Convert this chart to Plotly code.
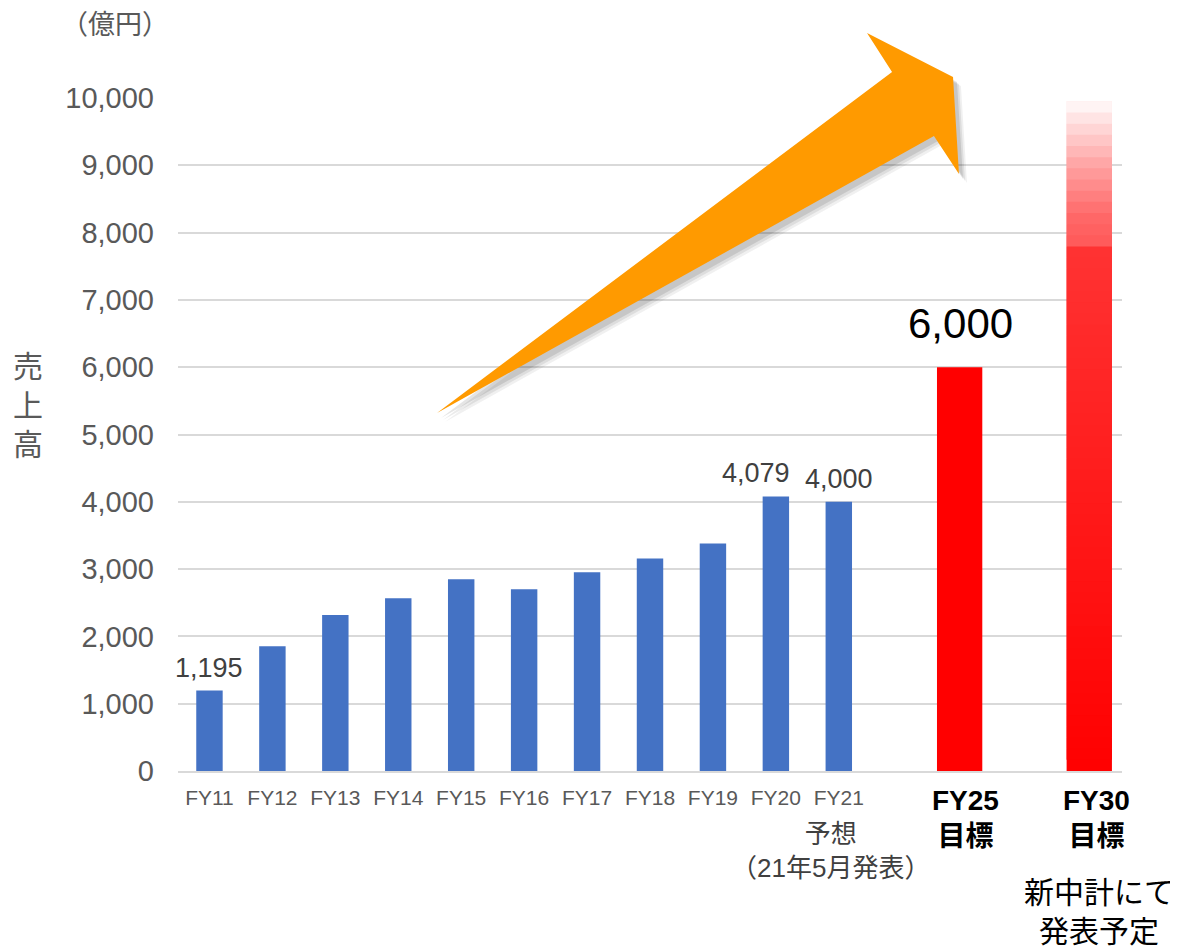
import plotly.graph_objects as go
from plotly.colors import sample_colorscale

# ── Data ──────────────────────────────────────────────────────────────────────
years = ["FY11", "FY12", "FY13", "FY14", "FY15", "FY16",
         "FY17", "FY18", "FY19", "FY20", "FY21"]
sales = [1195, 1853, 2319, 2567, 2850, 2701, 2954, 3158, 3381, 4079, 4000]

target_years = ["FY25", "FY30"]
targets = [6000, 9950]

spacers = [" ", "  "]
categories = years + [spacers[0], target_years[0], spacers[1], target_years[1]]

labelled_years = ["FY11", "FY20", "FY21"]
y_ticks = [0, 1000, 2000, 3000, 4000, 5000, 6000, 7000, 8000, 9000, 10000]

# ── Style ─────────────────────────────────────────────────────────────────────
W, H = 1178, 950
OFF = 8                                      # page body margin
PL, PR, PT, PB = 178, 1122, 98, 771          # plot area on screen
FONT = "Liberation Sans, Arial, Noto Sans CJK JP, sans-serif"
GREY = "#595959"
BLUE = "#4472C4"
RED = "#FF0000"
ORANGE = "#FF9A00"
RED_W = 0.72

# fade of the FY30 bar, 0 = bottom, 1 = top
FY30_FADE = [[0.0, "rgb(255,0,0)"], [0.775, "rgb(255,50,50)"],
             [0.785, "rgb(255,88,88)"], [0.83, "rgb(255,105,105)"],
             [0.9, "rgb(255,160,160)"], [0.95, "rgb(255,205,205)"],
             [1.0, "rgb(255,252,252)"]]
N_SEG = 60


def paper(px, py):
    return (px - PL) / (PR - PL), (PB - py) / (PB - PT)


def note(text, px, py, size, color, **kw):
    x, y = paper(px, py)
    fig.add_annotation(xref="paper", yref="paper", x=x, y=y, text=text,
                       showarrow=False, xanchor="center", yanchor="middle",
                       font=dict(size=size, color=color), **kw)


fig = go.Figure()

# keeps the spacer categories on the axis
fig.add_trace(go.Bar(x=spacers, y=[0, 0], marker_line_width=0,
                     hoverinfo="skip", showlegend=False))

fig.add_trace(go.Bar(x=years, y=sales, width=0.42, marker_color=BLUE,
                     marker_line_width=0, showlegend=False))

fig.add_trace(go.Bar(x=[target_years[0]], y=[targets[0]], width=RED_W,
                     offset=-RED_W / 2 - 0.08,
                     marker_color=RED, marker_line_width=0, showlegend=False))

# FY30 drawn as overlapping slices to get the vertical fade
seg = targets[1] / N_SEG
mids = [(i + 0.5) / N_SEG for i in range(N_SEG)]
heights = [min(seg * 2, targets[1] - i * seg) for i in range(N_SEG)]
fig.add_trace(go.Bar(
    x=[target_years[1]] * N_SEG, y=heights,
    base=[i * seg for i in range(N_SEG)], width=RED_W,
    offset=-RED_W / 2 - 0.02,
    marker_color=sample_colorscale(FY30_FADE, mids),
    marker_line_width=0, showlegend=False, hoverinfo="skip",
))

# ── Value labels ──────────────────────────────────────────────────────────────
for yr in labelled_years:
    v = sales[years.index(yr)]
    fig.add_annotation(x=yr, y=v, text=f"{v:,}", showarrow=False,
                       yanchor="bottom", yshift=6,
                       xshift=-20 if yr == "FY20" else 0,
                       font=dict(size=27, color="#404040"))

fig.add_annotation(x=target_years[0], y=targets[0], text=f"{targets[0]:,}",
                   showarrow=False, yanchor="bottom", yshift=18, xshift=-4,
                   font=dict(size=42, color="#000000"))

# ── Text around the axes ──────────────────────────────────────────────────────
note("（億円）", 115, 25, 27, GREY)
note("売<br>上<br>高", 28, 405, 30, GREY)
note("予想<br>（21年5月発表）", 830, 851, 26, "#404040")
note("<b>FY25</b><br><b>目標</b>", 965, 818, 28, "#000000")
note("<b>FY30</b><br><b>目標</b>", 1096, 818, 28, "#000000")
note("新中計にて<br>発表予定", 1099, 912, 30, "#000000")

# ── Orange arrow with a soft shadow ───────────────────────────────────────────
arrow_px = [(437, 413), (892, 72), (867, 33), (953, 77),
            (959, 174), (934, 136)]


def path_from(points, dx=0, dy=0):
    pts = [paper(px + dx, py + dy) for px, py in points]
    return "M " + " L ".join(f"{a:.4f},{b:.4f}" for a, b in pts) + " Z"


for k, op in [(8, 0.06), (6, 0.08), (4, 0.10)]:
    fig.add_shape(type="path", xref="paper", yref="paper",
                  path=path_from(arrow_px, k, k + 1),
                  fillcolor="black", opacity=op, line_width=0)
fig.add_shape(type="path", xref="paper", yref="paper",
              path=path_from(arrow_px), fillcolor=ORANGE, line_width=0)

# ── Layout ────────────────────────────────────────────────────────────────────
fig.update_layout(
    width=W, height=H,
    margin=dict(l=PL - OFF, r=W - PR + OFF, t=PT - OFF, b=H - PB + OFF, pad=0),
    paper_bgcolor="white", plot_bgcolor="white",
    barmode="overlay",
    font=dict(family=FONT, color=GREY),
    showlegend=False,
)
fig.update_xaxes(
    type="category", categoryorder="array", categoryarray=categories,
    range=[-0.5, len(categories) - 0.5],
    tickvals=years, ticktext=years, ticks="",
    tickfont=dict(size=21, color=GREY), ticklabelstandoff=7,
    showline=True, linecolor="#D9D9D9", linewidth=1.5,
    showgrid=False, fixedrange=True,
)
fig.update_yaxes(
    range=[0, 10000], tickvals=y_ticks, tickformat=",",
    tickfont=dict(size=29, color=GREY), ticks="", ticklabelstandoff=23,
    showgrid=True, gridcolor="#D9D9D9", gridwidth=1.5,
    zeroline=False, showline=False, fixedrange=True,
)

fig.write_html("out.html")
